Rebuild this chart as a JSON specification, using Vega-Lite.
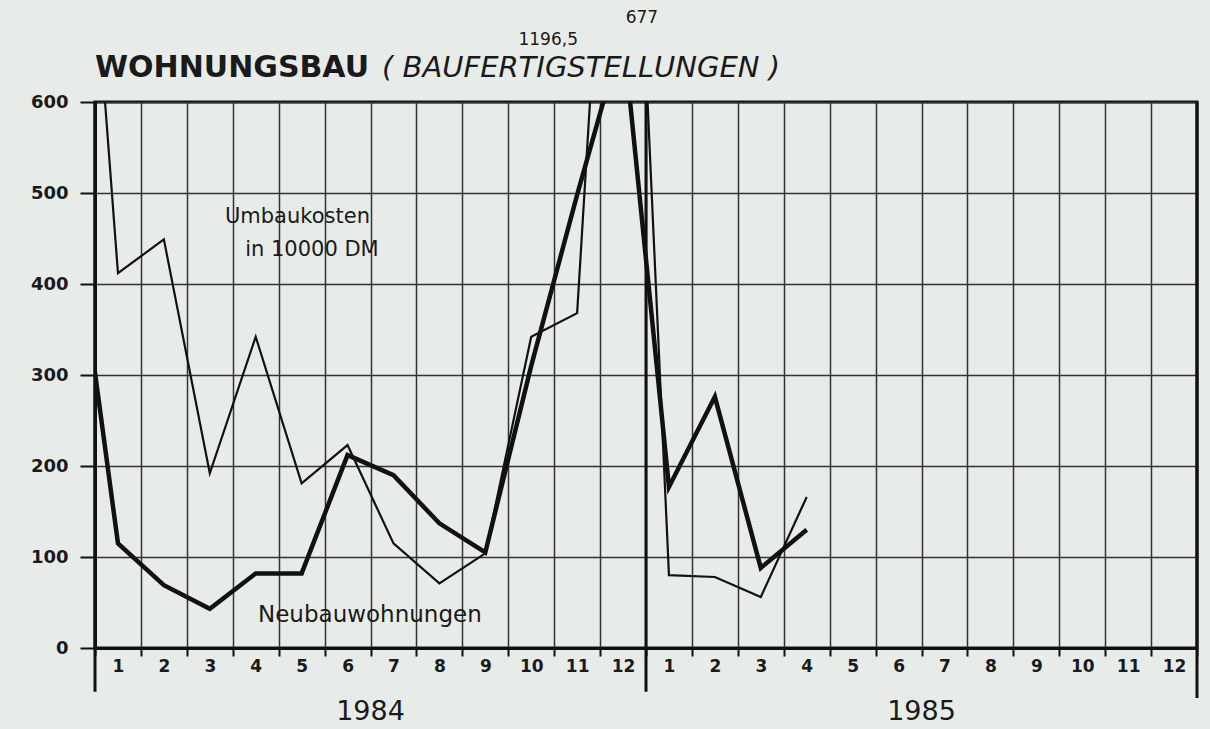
{
  "$schema": "https://vega.github.io/schema/vega-lite/v6.json",
  "width": 1102,
  "height": 546,
  "autosize": {"type": "none"},
  "padding": {"left": 95, "top": 102, "right": 13, "bottom": 81},
  "background": "#e8ece9",
  "config": {
    "view": {"stroke": "#111", "strokeWidth": 3},
    "font": "DejaVu Sans"
  },
  "datasets": {
    "series": [
      {"series": "Neubauwohnungen", "year": 1983, "month": 12, "t": 0, "value": 490},
      {"series": "Neubauwohnungen", "year": 1984, "month": 1, "t": 1, "value": 115},
      {"series": "Neubauwohnungen", "year": 1984, "month": 2, "t": 2, "value": 69},
      {"series": "Neubauwohnungen", "year": 1984, "month": 3, "t": 3, "value": 43},
      {"series": "Neubauwohnungen", "year": 1984, "month": 4, "t": 4, "value": 82},
      {"series": "Neubauwohnungen", "year": 1984, "month": 5, "t": 5, "value": 82},
      {"series": "Neubauwohnungen", "year": 1984, "month": 6, "t": 6, "value": 212},
      {"series": "Neubauwohnungen", "year": 1984, "month": 7, "t": 7, "value": 190},
      {"series": "Neubauwohnungen", "year": 1984, "month": 8, "t": 8, "value": 137},
      {"series": "Neubauwohnungen", "year": 1984, "month": 9, "t": 9, "value": 105},
      {"series": "Neubauwohnungen", "year": 1984, "month": 10, "t": 10, "value": 310},
      {"series": "Neubauwohnungen", "year": 1984, "month": 11, "t": 11, "value": 498},
      {"series": "Neubauwohnungen", "year": 1984, "month": 12, "t": 12, "value": 677},
      {"series": "Neubauwohnungen", "year": 1985, "month": 1, "t": 13, "value": 177},
      {"series": "Neubauwohnungen", "year": 1985, "month": 2, "t": 14, "value": 276},
      {"series": "Neubauwohnungen", "year": 1985, "month": 3, "t": 15, "value": 88},
      {"series": "Neubauwohnungen", "year": 1985, "month": 4, "t": 16, "value": 130},
      {"series": "Umbaukosten", "year": 1983, "month": 12, "t": 0, "value": 1080},
      {"series": "Umbaukosten", "year": 1984, "month": 1, "t": 1, "value": 412},
      {"series": "Umbaukosten", "year": 1984, "month": 2, "t": 2, "value": 449},
      {"series": "Umbaukosten", "year": 1984, "month": 3, "t": 3, "value": 192},
      {"series": "Umbaukosten", "year": 1984, "month": 4, "t": 4, "value": 342},
      {"series": "Umbaukosten", "year": 1984, "month": 5, "t": 5, "value": 181},
      {"series": "Umbaukosten", "year": 1984, "month": 6, "t": 6, "value": 223},
      {"series": "Umbaukosten", "year": 1984, "month": 7, "t": 7, "value": 115},
      {"series": "Umbaukosten", "year": 1984, "month": 8, "t": 8, "value": 71},
      {"series": "Umbaukosten", "year": 1984, "month": 9, "t": 9, "value": 104},
      {"series": "Umbaukosten", "year": 1984, "month": 10, "t": 10, "value": 342},
      {"series": "Umbaukosten", "year": 1984, "month": 11, "t": 11, "value": 368},
      {"series": "Umbaukosten", "year": 1984, "month": 12, "t": 12, "value": 1196.5},
      {"series": "Umbaukosten", "year": 1985, "month": 1, "t": 13, "value": 80},
      {"series": "Umbaukosten", "year": 1985, "month": 2, "t": 14, "value": 78},
      {"series": "Umbaukosten", "year": 1985, "month": 3, "t": 15, "value": 56},
      {"series": "Umbaukosten", "year": 1985, "month": 4, "t": 16, "value": 166}
    ],
    "bounds": [
      {"t": 0.5, "lo": -48, "hi": 600},
      {"t": 12.5, "lo": -48, "hi": 600},
      {"t": 24.5, "lo": -55, "hi": 600}
    ]
  },
  "encoding": {
    "x": {
      "field": "t",
      "type": "quantitative",
      "scale": {"domain": [0.5, 24.5], "nice": false, "zero": false},
      "axis": {
        "title": null,
        "values": [0.5, 1.5, 2.5, 3.5, 4.5, 5.5, 6.5, 7.5, 8.5, 9.5, 10.5, 11.5, 12.5, 13.5, 14.5, 15.5, 16.5, 17.5, 18.5, 19.5, 20.5, 21.5, 22.5, 23.5, 24.5],
        "labelExpr": "datum.value > 24 ? '' : (floor(datum.value) % 12) + 1",
        "labelOffset": 23,
        "labelFlush": false,
        "labelOverlap": false,
        "labelFontSize": 17,
        "labelFontWeight": "bold",
        "labelColor": "#1a1a1a",
        "labelPadding": 2,
        "tickSize": 8,
        "tickWidth": 2,
        "tickColor": "#111",
        "domainColor": "#111",
        "domainWidth": 3,
        "grid": true,
        "gridColor": "#333",
        "gridWidth": 1.5
      }
    },
    "y": {
      "field": "value",
      "type": "quantitative",
      "scale": {"domain": [0, 600], "nice": false},
      "axis": {
        "title": null,
        "values": [0, 100, 200, 300, 400, 500, 600],
        "labelFontSize": 18,
        "labelFontWeight": "bold",
        "labelColor": "#1a1a1a",
        "labelPadding": 12,
        "tickSize": 15,
        "tickWidth": 2,
        "tickColor": "#111",
        "domainColor": "#111",
        "domainWidth": 3,
        "grid": true,
        "gridColor": "#333",
        "gridWidth": 1.5
      }
    }
  },
  "layer": [
    {
      "data": {"name": "series"},
      "mark": {"type": "line", "color": "#111", "clip": true, "strokeJoin": "miter"},
      "encoding": {
        "detail": {"field": "series"},
        "strokeWidth": {
          "field": "series",
          "type": "nominal",
          "scale": {"domain": ["Neubauwohnungen", "Umbaukosten"], "range": [4.5, 2.2]},
          "legend": null
        }
      }
    },
    {
      "data": {"name": "bounds"},
      "mark": {"type": "rule", "color": "#111", "strokeWidth": 3, "clip": false},
      "encoding": {
        "y": {"field": "lo", "type": "quantitative"},
        "y2": {"field": "hi"}
      }
    },
    {
      "data": {"values": [{"t": 0.5, "value": 628, "label": "WOHNUNGSBAU"}]},
      "mark": {"type": "text", "align": "left", "baseline": "alphabetic", "fontSize": 30, "fontWeight": "bold", "color": "#1a1a1a"},
      "encoding": {"text": {"field": "label"}}
    },
    {
      "data": {"values": [{"t": 6.75, "value": 628, "label": "( BAUFERTIGSTELLUNGEN )"}]},
      "mark": {"type": "text", "align": "left", "baseline": "alphabetic", "fontSize": 29, "fontStyle": "italic", "color": "#1a1a1a"},
      "encoding": {"text": {"field": "label"}}
    },
    {
      "data": {"values": [
        {"t": 3.33, "value": 474, "label": "Umbaukosten"},
        {"t": 3.77, "value": 437, "label": "in 10000 DM"}
      ]},
      "mark": {"type": "text", "align": "left", "baseline": "middle", "fontSize": 21, "color": "#1a1a1a"},
      "encoding": {"text": {"field": "label"}}
    },
    {
      "data": {"values": [
        {"t": 4.05, "value": 36, "label": "Neubauwohnungen"}
      ]},
      "mark": {"type": "text", "align": "left", "baseline": "middle", "fontSize": 23, "color": "#1a1a1a"},
      "encoding": {"text": {"field": "label"}}
    },
    {
      "data": {"values": [
        {"t": 10.37, "value": 668, "label": "1196,5"},
        {"t": 12.41, "value": 692, "label": "677"}
      ]},
      "mark": {"type": "text", "align": "center", "baseline": "middle", "fontSize": 17, "color": "#1a1a1a"},
      "encoding": {"text": {"field": "label"}}
    },
    {
      "data": {"values": [
        {"t": 6.5, "value": -70, "label": "1984"},
        {"t": 18.5, "value": -70, "label": "1985"}
      ]},
      "mark": {"type": "text", "align": "center", "baseline": "middle", "fontSize": 27, "color": "#1a1a1a"},
      "encoding": {"text": {"field": "label"}}
    }
  ]
}
